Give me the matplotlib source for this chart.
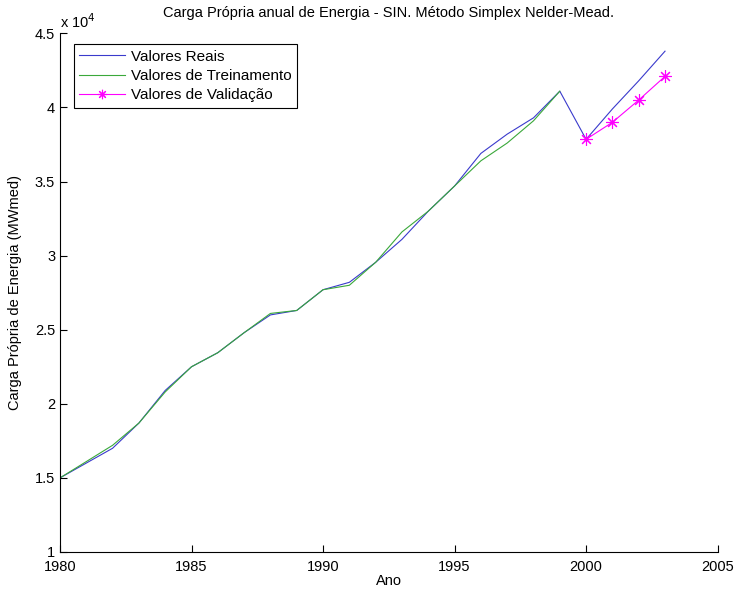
import matplotlib
matplotlib.use("Agg")
import matplotlib.pyplot as plt
import numpy as np

plt.rcParams['font.family'] = ['Liberation Sans', 'DejaVu Sans']

anos_reais = [1980, 1981, 1982, 1983, 1984, 1985, 1986, 1987, 1988, 1989, 1990, 1991,
              1992, 1993, 1994, 1995, 1996, 1997, 1998, 1999, 2000, 2001, 2002, 2003]
valores_reais = [1.50, 1.60, 1.70, 1.87, 2.09, 2.25, 2.345, 2.48, 2.60, 2.63, 2.77, 2.82,
                 2.955, 3.11, 3.30, 3.47, 3.69, 3.82, 3.93, 4.11, 3.785, 3.99, 4.18, 4.38]
anos_treino = [1980, 1981, 1982, 1983, 1984, 1985, 1986, 1987, 1988, 1989, 1990, 1991,
               1992, 1993, 1994, 1995, 1996, 1997, 1998, 1999]
valores_treino = [1.50, 1.61, 1.72, 1.87, 2.08, 2.25, 2.345, 2.48, 2.61, 2.63, 2.77, 2.80,
                  2.955, 3.16, 3.30, 3.47, 3.64, 3.76, 3.91, 4.11]
anos_valid = [2000, 2001, 2002, 2003]
valores_valid = [3.785, 3.90, 4.05, 4.21]

fig = plt.figure(figsize=(7.34, 5.92), dpi=100)
ax = fig.add_axes([0.0817, 0.0676, 0.896, 0.876])

ax.plot(anos_reais, valores_reais, color='#3a3acc', lw=0.8, label='Valores Reais')
ax.plot(anos_treino, valores_treino, color='#3aa83a', lw=0.8, label='Valores de Treinamento')
ax.plot(anos_valid, valores_valid, color='#ff00ff', lw=0.8, marker=(8, 2, 0), markersize=9,
        markeredgewidth=0.8, label='Valores de Validação')

ax.set_xlim(1980, 2005)
ax.set_ylim(1, 4.5)
ax.set_xticks([1980, 1985, 1990, 1995, 2000, 2005])
ax.set_yticks([1, 1.5, 2, 2.5, 3, 3.5, 4, 4.5])
ax.set_yticklabels(['1', '1.5', '2', '2.5', '3', '3.5', '4', '4.5'])
ax.tick_params(direction='in', length=5, labelsize=10.5, width=0.8)
ax.tick_params(axis='x', pad=6)
ax.spines['top'].set_visible(False)
ax.spines['right'].set_visible(False)
for s in ['left', 'bottom']:
    ax.spines[s].set_linewidth(0.8)

ax.text(0.0, 1.005, 'x 10$^{4}$', transform=ax.transAxes, fontsize=10.5, ha='left', va='bottom')
ax.set_title('Carga Própria anual de Energia - SIN. Método Simplex Nelder-Mead.', fontsize=10.5, pad=12)
ax.set_xlabel('Ano', fontsize=10.5, labelpad=0)
ax.set_ylabel('Carga Própria de Energia (MWmed)', fontsize=10.5, labelpad=9)

leg = ax.legend(loc='upper left', bbox_to_anchor=(0.021, 0.979), fontsize=11, fancybox=False,
                edgecolor='black', framealpha=1, borderpad=0.35, labelspacing=0.35,
                handlelength=3.0, handletextpad=0.4, borderaxespad=0, markerscale=0.75)
leg.get_frame().set_linewidth(0.8)

fig.savefig('out.png', dpi=100)
